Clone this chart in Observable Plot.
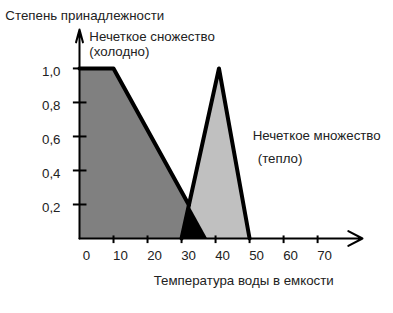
<!DOCTYPE html>
<html>
<head>
<meta charset="utf-8">
<script src="https://cdn.jsdelivr.net/npm/d3@7"></script>
<script src="https://cdn.jsdelivr.net/npm/@observablehq/plot@0.6"></script>
<style>
  html, body { margin: 0; padding: 0; background: #fff; }
  svg { display: block; }
</style>
</head>
<body>
<div id="chart"></div>
<script>
// Data
const xTicks = [0, 10, 20, 30, 40, 50, 60, 70];
const xTickLabels = ["0", "10", "20", "30", "40", "50", "60", "70"];
const yTicks = [0.2, 0.4, 0.6, 0.8, 1.0];
const yTickLabels = ["0,2", "0,4", "0,6", "0,8", "1,0"];
const coldX = [0, 10, 37.6];
const coldY = [1, 1, 0];
const warmX = [30, 41, 50];
const warmY = [0, 1, 0];
const xAxisMax = 83.2;
const yAxisMax = 1.229;
const yTitle = "Степень принадлежности";
const xTitle = "Температура воды в емкости";
const coldLabel = ["Нечеткое сножество", "(холодно)"];
const warmLabel = ["Нечеткое множество", "(тепло)"];

const cold = coldX.map((x, i) => ({x, y: coldY[i]}));
const warm = warmX.map((x, i) => ({x, y: warmY[i]}));

// intersection of the cold falling edge and the warm rising edge
function intersect(a1, a2, b1, b2) {
  const d = (a2.x - a1.x) * (b2.y - b1.y) - (a2.y - a1.y) * (b2.x - b1.x);
  const t = ((b1.x - a1.x) * (b2.y - b1.y) - (b1.y - a1.y) * (b2.x - b1.x)) / d;
  return {x: a1.x + t * (a2.x - a1.x), y: a1.y + t * (a2.y - a1.y)};
}
const ip = intersect(cold[1], cold[2], warm[0], warm[1]);
const overlap = [warm[0], ip, cold[2]];
const coldEdge = [cold[0], cold[1], ip];

const font = "'Liberation Sans', Arial, sans-serif";
const fs = 13.3;

const plot = Plot.plot({
  width: 393,
  height: 313,
  marginLeft: 79,
  marginRight: 31,
  marginTop: 29,
  marginBottom: 75,
  style: {fontFamily: font, fontSize: fs + "px", background: "#fff", overflow: "visible"},
  x: {domain: [0, xAxisMax], axis: null},
  y: {domain: [0, yAxisMax], axis: null},
  marks: [
    Plot.areaY(cold, {x: "x", y: "y", fill: "#808080", curve: "linear"}),
    Plot.areaY(warm, {x: "x", y: "y", fill: "#c0c0c0", curve: "linear"}),
    Plot.areaY(overlap, {x: "x", y: "y", fill: "#000", curve: "linear"}),
    Plot.line(coldEdge, {x: "x", y: "y", stroke: "#000", strokeWidth: 4, strokeLinejoin: "round"}),
    Plot.line(warm, {x: "x", y: "y", stroke: "#000", strokeWidth: 4, strokeLinejoin: "round"}),
    // axes
    Plot.arrow([0], {x1: 0, y1: 0, x2: xAxisMax, y2: 0, stroke: "#000", strokeWidth: 2, headLength: 12, headAngle: 55}),
    Plot.arrow([0], {x1: 0, y1: 0, x2: 0, y2: yAxisMax, stroke: "#000", strokeWidth: 2, headLength: 10, headAngle: 30}),
    Plot.ruleY(yTicks, {y: d => d, x1: -1.8, x2: 2.2, stroke: "#000", strokeWidth: 2}),
    Plot.ruleX(xTicks.slice(1), {x: d => d, y1: -0.03, y2: 0.015, stroke: "#000", strokeWidth: 2}),
    Plot.text(yTicks, {x: 0, y: d => d, text: (d, i) => yTickLabels[i], textAnchor: "end", dx: -19, dy: 3, fill: "#222", fontSize: fs}),
    Plot.text(xTicks, {x: d => d, y: 0, text: (d, i) => xTickLabels[i], dx: 7, dy: 17, fill: "#222", fontSize: fs}),
    Plot.text([yTitle], {x: -21.8, y: 1.309, text: d => d, textAnchor: "start", fill: "#222", fontSize: fs}),
    Plot.text([coldLabel[0]], {x: 2.9, y: 1.185, text: d => d, textAnchor: "start", fill: "#222", fontSize: fs}),
    Plot.text([coldLabel[1]], {x: 2.9, y: 1.097, text: d => d, textAnchor: "start", fill: "#222", fontSize: fs}),
    Plot.text([warmLabel[0]], {x: 50.9, y: 0.603, text: d => d, textAnchor: "start", fill: "#222", fontSize: fs}),
    Plot.text([warmLabel[1]], {x: 52.4, y: 0.468, text: d => d, textAnchor: "start", fill: "#222", fontSize: fs}),
    Plot.text([xTitle], {x: 21.8, y: -0.25, text: d => d, textAnchor: "start", fill: "#222", fontSize: fs})
  ]
});
document.getElementById("chart").appendChild(plot);
</script>
</body>
</html>
